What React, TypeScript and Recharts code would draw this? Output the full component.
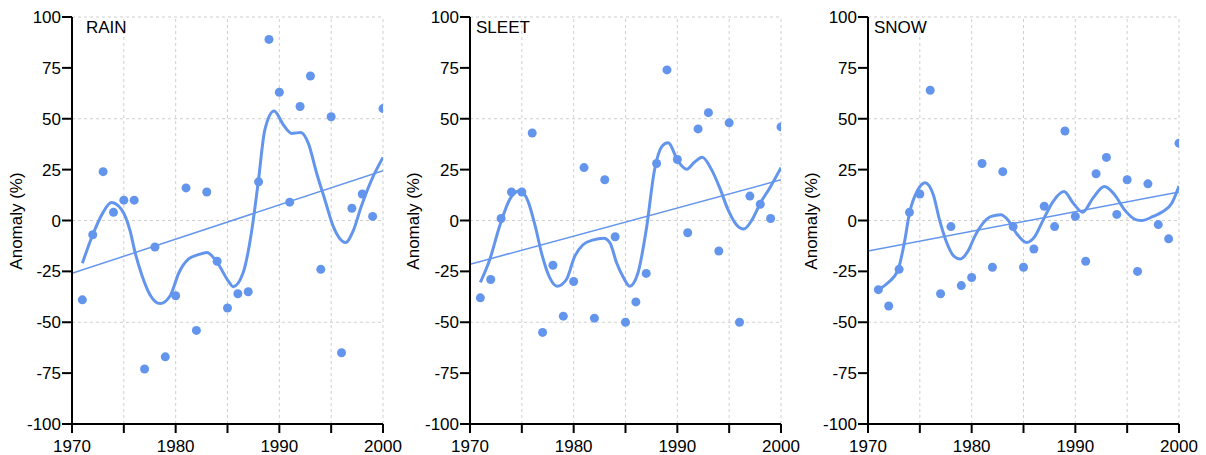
import React from 'react';
import { ComposedChart, Line, Scatter, XAxis, YAxis, ReferenceLine } from 'recharts';

// ---------- data ----------
const years = [1971, 1972, 1973, 1974, 1975, 1976, 1977, 1978, 1979, 1980, 1981, 1982, 1983, 1984, 1985, 1986, 1987, 1988, 1989, 1990, 1991, 1992, 1993, 1994, 1995, 1996, 1997, 1998, 1999, 2000];

const rainValues = [-39, -7, 24, 4, 10, 10, -73, -13, -67, -37, 16, -54, 14, -20, -43, -36, -35, 19, 89, 63, 9, 56, 71, -24, 51, -65, 6, 13, 2, 55];
const sleetValues = [-38, -29, 1, 14, 14, 43, -55, -22, -47, -30, 26, -48, 20, -8, -50, -40, -26, 28, 74, 30, -6, 45, 53, -15, 48, -50, 12, 8, 1, 46];
const snowValues = [-34, -42, -24, 4, 13, 64, -36, -3, -32, -28, 28, -23, 24, -3, -23, -14, 7, -3, 44, 2, -20, 23, 31, 3, 20, -25, 18, -2, -9, 38];

const rainCurveYears = [1971, 1972, 1973, 1973.8, 1974.8, 1975.6, 1976.1, 1976.75, 1977.55, 1978.5, 1979.5, 1980.3, 1981.25, 1982.2, 1983, 1984, 1985.1, 1985.55, 1986.5, 1987.3, 1987.97, 1988.6, 1989.5, 1990.4, 1991.2, 1992.08, 1992.8, 1993.6, 1994.4, 1995.2, 1996.4, 1997.1, 1997.9, 1998.9, 2000];
const rainCurveValues = [-21, -7, 4, 8.8, 5.2, -5, -16, -27, -36.7, -40.8, -36.7, -25.8, -18.9, -16.8, -15.7, -20.6, -29.9, -32.5, -25.8, -6.2, 19.1, 44.5, 53.8, 46.9, 42.8, 43.3, 37.9, 23.2, 10.1, -2.9, -10.8, -5.4, 6.9, 20, 31];

const sleetCurveYears = [1971, 1971.9, 1972.9, 1973.9, 1974.8, 1975.6, 1976.3, 1976.9, 1977.7, 1978.4, 1979.3, 1980.1, 1980.9, 1981.9, 1982.9, 1983.5, 1984.15, 1984.8, 1985.4, 1986.2, 1987, 1987.8, 1988.5, 1989.1, 1990.1, 1990.9, 1991.7, 1992.4, 1993.3, 1994.1, 1994.9, 1995.7, 1996.4, 1997.2, 1998, 1998.9, 2000];
const sleetCurveValues = [-30.4, -19.3, -2.1, 11, 14.6, 9.4, -2.9, -16, -28.2, -32.3, -29, -17.6, -11.9, -9.5, -8.7, -11, -20.9, -28, -32.3, -25.8, -4.6, 24.8, 36.3, 38.2, 28.9, 25.2, 28.9, 31.1, 25, 15.9, 5.2, -2.1, -4.2, 0.3, 8.5, 15.9, 26];

const snowCurveYears = [1971, 1971.9, 1972.9, 1973.5, 1974, 1974.8, 1975.5, 1976.3, 1976.9, 1977.55, 1978.3, 1978.9, 1979.65, 1980.3, 1981.1, 1981.9, 1982.8, 1983.5, 1984.3, 1985.3, 1986.1, 1986.9, 1987.85, 1988.9, 1989.8, 1990.7, 1991.7, 1992.8, 1993.8, 1994.75, 1995.9, 1996.4, 1997.5, 1998.45, 1999.3, 2000];
const snowCurveValues = [-34, -30.7, -24.2, -11.1, 3.6, 15, 18.6, 12.6, 0.3, -10.3, -17.6, -18.9, -15, -7.8, -1.3, 2, 2.8, 0.3, -6.2, -10.8, -7.8, 0.3, 9.3, 14.2, 8.5, 4.1, 11, 16.7, 12.6, 5.2, 0.3, 0, 2, 4.4, 8.5, 17];

const trendYears = [1970, 2000];
const rainTrend = [-26, 24.5];
const sleetTrend = [-21.5, 20];
const snowTrend = [-15, 14];

const xTicks = [1970, 1975, 1980, 1985, 1990, 1995, 2000];
const xLabelTicks = [1970, 1980, 1990, 2000];
const yTicks = [-100, -75, -50, -25, 0, 25, 50, 75, 100];
const gridYValues = [-50, 0, 50, 100];
const gridXValues = [1975, 1980, 1985, 1990, 1995, 2000];
const titles = ['RAIN', 'SLEET', 'SNOW'];
const yLabel = 'Anomaly (%)';

// ---------- style ----------
const COLOR = '#6495ED';
const GRID = '#cfcfcf';
const FONT = '"Liberation Sans", Arial, Helvetica, sans-serif';
const FS = 17;

type PanelProps = {
  left: number;
  plotLeft: number;
  plotRight: number;
  values: number[];
  curveYears: number[];
  curveValues: number[];
  trend: number[];
};

const Dot = (p: any) => <circle cx={p.cx} cy={p.cy} r={4.5} fill={COLOR} />;

function Panel({ left, plotLeft, plotRight, values, curveYears, curveValues, trend }: PanelProps) {
  const width = 425;
  const pts = years.map((y, i) => ({ x: y, v: values[i] }));
  const curve = curveYears.map((y, i) => ({ x: y, v: curveValues[i] }));
  const tr = trendYears.map((y, i) => ({ x: y, v: trend[i] }));
  return (
    <div style={{ position: 'absolute', left, top: 0 }}>
      <ComposedChart width={width} height={455} margin={{ top: 17, right: width - plotRight, bottom: 0, left: 0 }}>
        <XAxis
          dataKey="x"
          type="number"
          domain={[1970, 2000]}
          allowDataOverflow
          ticks={xTicks}
          interval={0}
          tickFormatter={(v: number) => (xLabelTicks.includes(v) ? String(v) : '')}
          height={31}
          stroke="#000"
          strokeWidth={2}
          tickSize={9}
          tickMargin={7}
          tick={{ fill: '#000', fontSize: FS, fontFamily: FONT }}
        />
        <YAxis
          type="number"
          domain={[-100, 100]}
          allowDataOverflow
          ticks={yTicks}
          interval={0}
          width={plotLeft}
          stroke="#000"
          strokeWidth={2}
          tickSize={10}
          tickMargin={1}
          tick={{ fill: '#000', fontSize: FS, fontFamily: FONT }}
        />
        {gridYValues.map((v) => (
          <ReferenceLine key={'h' + v} y={v} stroke={GRID} strokeDasharray="3 3" />
        ))}
        {gridXValues.map((v) => (
          <ReferenceLine key={'v' + v} x={v} stroke={GRID} strokeDasharray="3 3" />
        ))}
        <Line data={tr} dataKey="v" type="linear" stroke={COLOR} strokeWidth={1.5} dot={false} activeDot={false} isAnimationActive={false} />
        <Line data={curve} dataKey="v" type="monotone" stroke={COLOR} strokeWidth={3} dot={false} activeDot={false} isAnimationActive={false} />
        <Scatter data={pts} dataKey="v" fill={COLOR} shape={Dot} isAnimationActive={false} />
      </ComposedChart>
    </div>
  );
}

export default function App() {
  const titleX = [86, 476, 874];
  const labelX = [22, 419, 817];
  return (
    <div style={{ position: 'absolute', left: 0, top: 0, width: 1206, height: 455, background: '#fff', overflow: 'hidden' }}>
      <Panel left={0} plotLeft={72} plotRight={383} values={rainValues} curveYears={rainCurveYears} curveValues={rainCurveValues} trend={rainTrend} />
      <Panel left={400} plotLeft={70} plotRight={381} values={sleetValues} curveYears={sleetCurveYears} curveValues={sleetCurveValues} trend={sleetTrend} />
      <Panel left={800} plotLeft={68} plotRight={379} values={snowValues} curveYears={snowCurveYears} curveValues={snowCurveValues} trend={snowTrend} />
      <svg width={1206} height={455} style={{ position: 'absolute', left: 0, top: 0, pointerEvents: 'none' }}>
        {titles.map((t, i) => (
          <text key={t} x={titleX[i]} y={33} fontSize={FS} fontFamily={FONT} fill="#000">{t}</text>
        ))}
        {labelX.map((x, i) => (
          <text key={i} x={x} y={221} fontSize={FS} fontFamily={FONT} fill="#000" textAnchor="middle" transform={`rotate(-90, ${x}, 221)`}>{yLabel}</text>
        ))}
      </svg>
    </div>
  );
}
